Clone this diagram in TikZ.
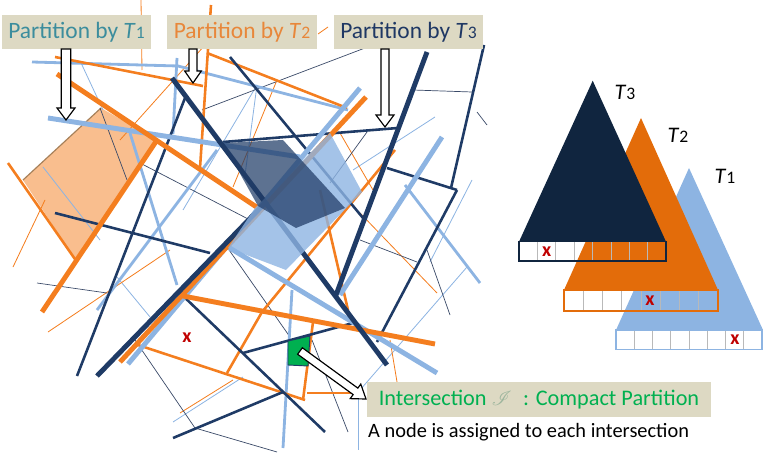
\documentclass[tikz,border=0pt]{standalone}
\usepackage{fontspec}
\setmainfont{Carlito}
\usepackage{mathrsfs}
\usetikzlibrary{calc}

\definecolor{navyline}{HTML}{1F3B66}
\definecolor{orangeline}{HTML}{F47E1F}
\definecolor{blueline}{HTML}{8DB4E2}
\definecolor{thinnavy}{HTML}{3A4A68}
\definecolor{boxfill}{HTML}{DDD9C3}
\definecolor{tealtext}{HTML}{3C8D9D}
\definecolor{orangetext}{HTML}{E8873A}
\definecolor{navytext}{HTML}{1F3864}
\definecolor{greentext}{HTML}{00B050}
\definecolor{scriptgray}{HTML}{9DB59D}
\definecolor{peach}{HTML}{F9BE8E}
\definecolor{treenavy}{HTML}{10253F}
\definecolor{treeorange}{HTML}{E36C0A}
\definecolor{treeblue}{HTML}{8DB4E2}
\definecolor{markred}{HTML}{C00000}

% block arrow: start, tip, half shaft width, half head width, head length
\newcommand{\blockarrow}[5]{%
  \coordinate (#2q) at ($(#2)!#5!(#1)$);
  \draw[arrowbody] ($(#1)!#3!90:(#2)$) -- ($(#2q)!#3!90:(#2)$) -- ($(#2q)!#4!90:(#2)$)
    -- (#2) -- ($(#2q)!#4!-90:(#2)$) -- ($(#2q)!#3!-90:(#2)$) -- ($(#1)!#3!-90:(#2)$) -- cycle;}

% one row of eight leaf cells below a tree
\newcommand{\leafrow}[5]{% left x, top y, right x, bottom y, colour
  \foreach \k in {1,...,7}{
    \draw[celldiv] ({#1+(#3-#1)*\k/8},#2) -- ({#1+(#3-#1)*\k/8},#4);}
  \draw[#5, line width=1.3pt] (#1,#2) rectangle (#3,#4);}

\begin{document}
\begin{tikzpicture}[x=0.03cm,y=-0.03cm,
  nthick/.style={navyline, line width=4.2pt},
  nmed/.style={navyline, line width=2.2pt},
  nthin/.style={thinnavy, line width=0.6pt},
  othick/.style={orangeline, line width=4.2pt},
  omed/.style={orangeline, line width=2.2pt},
  othin/.style={orangeline, line width=0.7pt},
  bthick/.style={blueline, line width=4.2pt},
  bmed/.style={blueline, line width=2.4pt},
  bthin/.style={blueline, line width=0.7pt},
  arrowbody/.style={draw=black, fill=white, line width=1pt, line join=miter},
  labelbox/.style={fill=boxfill, minimum width=4.47cm, minimum height=1.02cm, inner sep=0pt,
    font=\fontsize{20}{24}\selectfont},
  celldiv/.style={gray!55, line width=0.6pt},
  treelabel/.style={font=\fontsize{19}{22}\selectfont, inner sep=0pt},
  xmark/.style={markred, font=\fontsize{17}{19}\selectfont\bfseries, inner sep=0pt}]
\useasboundingbox (0,0) rectangle (763,456);

% ---------- shaded cell of the first partition ----------
\fill[peach] (101,108) -- (157,140) -- (77,262) -- (23,180) -- cycle;
\draw[brown!60!gray, line width=1pt] (23,180) -- (101,108);

% ---------- thin split lines ----------
\draw[bthin] (353,170) -- (435,117);
\draw[bthin] (358,393) -- (358,450);
\draw[bthin] (82,65) -- (103,110);
\draw[bthin] (43,167) -- (100,240);
\draw[bthin] (117,277) -- (150,317);
\draw[bthin] (467,267) -- (360,390);
\draw[bthin] (173,422) -- (243,377);
\draw[bthin] (472,180) -- (430,262);
\draw[bthin] (257,85) -- (245,175);
\draw[bthin] (257,85) -- (183,210);

\draw[othin] (13,267) -- (45,200);
\draw[othin] (48,332) -- (170,250);
\draw[othin] (120,140) -- (205,45);
\draw[othin] (141,0) -- (142,70);
\draw[othin] (277,80) -- (233,187);
\draw[othin] (360,213) -- (437,293);
\draw[othin] (390,340) -- (397,382);
\draw[othin] (180,413) -- (233,380);
\draw[othin] (340,133) -- (373,190);
\draw[othin] (318,34) -- (328,27);

\draw[nthin] (202,110) -- (365,48);
\draw[nthin] (140,163) -- (250,220);
\draw[nthin] (100,108) -- (127,180);
\draw[nthin] (37,283) -- (107,293);
\draw[nthin] (135,340) -- (195,428) -- (277,452);
\draw[nthin] (413,90) -- (472,92);
\draw[nthin] (477,112) -- (487,125);
\draw[nthin] (427,250) -- (450,315);
\draw[nthin] (360,240) -- (417,262);
\draw[nthin] (227,247) -- (290,337);
\draw[nthin] (367,132) -- (330,183);
\draw[nthin] (312,340) -- (348,432);

% ---------- medium split lines ----------
\draw[bmed] (32,62) -- (178,66) -- (348,110);
\draw[bmed] (177,58) -- (173,134);
\draw[bmed] (292,290) -- (283,448);
\draw[bmed] (130,133) -- (177,285);
\draw[bmed] (97,310) -- (217,150);
\draw[bmed] (405,185) -- (480,283);

\draw[omed] (8,163) -- (77,262);
\draw[omed] (211,5) -- (200,168);
\draw[omed] (55,57) -- (203,86);
\draw[omed] (207,53) -- (347,108);
\draw[omed] (395,150) -- (262,312) -- (227,373);
\draw[omed] (320,190) -- (348,310);
\draw[omed] (313,322) -- (303,400);
\draw[omed] (138,345) -- (305,400);
\draw[omed] (307,393) -- (355,393);

\draw[nmed] (223,142) -- (398,128);
\draw[nmed] (484,45) -- (451,188);
\draw[nmed] (387,168) -- (457,190);
\draw[nmed] (457,190) -- (377,342);
\draw[nmed] (230,57) -- (363,218);
\draw[nmed] (55,213) -- (210,253);
\draw[nmed] (180,293) -- (325,432);
\draw[nmed] (77,376) -- (185,98);
\draw[nmed] (173,438) -- (283,392);
\draw[nmed] (243,353) -- (353,323);

% ---------- thick split lines ----------
\draw[bthick] (48,118) -- (300,157);
\draw[bthick] (228,247) -- (437,373);
\draw[bthick] (442,137) -- (340,295);
\draw[bthick] (128,364) -- (360,88);

\draw[othick] (57,74) -- (258,208);
\draw[othick] (183,296) -- (435,344);
\draw[othick] (42,312) -- (157,140);
\draw[othick] (120,362) -- (366,97);

\draw[nthick] (172,78) -- (387,365);
\draw[nthick] (97,376) -- (267,201);
\draw[nthick] (427,52) -- (336,295);

% ---------- shaded cells of the second and third partitions ----------
\fill[blueline, opacity=0.8] (255,208) -- (330,133) -- (362,192) -- (286,270) -- (228,248) -- cycle;
\fill[navyline, opacity=0.72] (223,143) -- (283,140) -- (345,208) -- (296,228) -- (258,206) -- cycle;

% ---------- compact cell and its mark ----------
\filldraw[fill=greentext, draw=navyline, line width=0.8pt]
  (288,341) -- (310,336) -- (308,366) -- (288,365) -- cycle;
\node[xmark] (cellx) at (187,338) {x};

% ---------- labels ----------
\node[labelbox, text=tealtext] (lab1) at (76.5,32) {Partition by \textit{T}{\fontsize{15}{15}\selectfont 1}};
\node[labelbox, text=orangetext] (lab2) at (242,32) {Partition by \textit{T}{\fontsize{15}{15}\selectfont 2}};
\node[labelbox, text=navytext] (lab3) at (408.5,32) {Partition by \textit{T}{\fontsize{15}{15}\selectfont 3}};

\node[fill=boxfill, text=greentext, minimum width=10.32cm, minimum height=1.05cm,
  inner sep=0pt, font=\fontsize{19}{23}\selectfont]
  (inter) at (539,399.5) {Intersection \textcolor{scriptgray}{$\mathscr{I}$}\; : Compact Partition};
\node[anchor=west, inner sep=0pt, font=\fontsize{17.4}{20}\selectfont] (note) at (368,432)
  {A node is assigned to each intersection};

% ---------- block arrows ----------
\coordinate (a1s) at (66,49);   \coordinate (a1t) at (66,120);
\coordinate (a2s) at (193,49);  \coordinate (a2t) at (193,83);
\coordinate (a3s) at (385,49);  \coordinate (a3t) at (385,127);
\coordinate (a4s) at (300,351); \coordinate (a4t) at (366,399);
\blockarrow{a1s}{a1t}{0.14cm}{0.27cm}{0.36cm}
\blockarrow{a2s}{a2t}{0.12cm}{0.25cm}{0.36cm}
\blockarrow{a3s}{a3t}{0.12cm}{0.27cm}{0.36cm}
\blockarrow{a4s}{a4t}{0.12cm}{0.27cm}{0.39cm}

% ---------- trees with their leaf rows ----------
\fill[treeblue] (689,168) -- (763,330) -- (616,330) -- cycle;
\fill[treeorange] (641,118) -- (718,290) -- (564,290) -- cycle;
\fill[treenavy] (592.7,80.7) -- (666,241.7) -- (519,241.7) -- cycle;
\leafrow{519}{241.7}{666}{261}{treenavy}
\leafrow{564}{290}{718}{311}{treeorange}
\leafrow{616}{330}{762}{349.5}{treeblue}
\node[xmark] (x3) at (546.6,251.5) {x};
\node[xmark] (x2) at (650,300.5) {x};
\node[xmark] (x1) at (735,340) {x};

\node[treelabel] (t3) at (625,92) {\textit{T}{\fontsize{15}{15}\selectfont 3}};
\node[treelabel] (t2) at (678,135) {\textit{T}{\fontsize{15}{15}\selectfont 2}};
\node[treelabel] (t1) at (725,176) {\textit{T}{\fontsize{15}{15}\selectfont 1}};
\end{tikzpicture}
\end{document}
